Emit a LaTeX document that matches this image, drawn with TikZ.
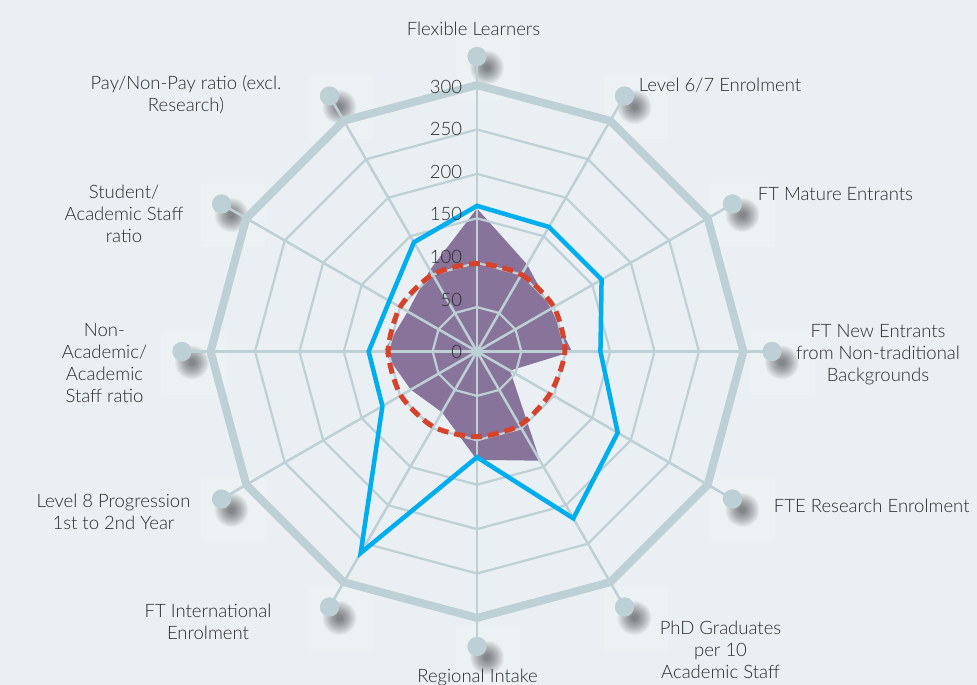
\documentclass[tikz,border=0pt]{standalone}
\usepackage{fontspec}
\setmainfont{Lato Light}
\usetikzlibrary{positioning}

\definecolor{bgcol}{HTML}{E9EFF2}
\definecolor{gridcol}{HTML}{BDD0D6}
\definecolor{purplefill}{HTML}{88739A}
\definecolor{bluecol}{HTML}{00AEEF}
\definecolor{redcol}{HTML}{D5432C}
\definecolor{txtcol}{HTML}{2B2B2B}

\newcommand{\unitpx}{0.888}

\tikzset{
  gridline/.style={draw=gridcol, line width=2.2},
  spokeline/.style={draw=gridcol, line width=2.5},
  outerring/.style={draw=gridcol, line width=8},
  dotnode/.style={circle, fill=gridcol, minimum size=19, inner sep=0},
  blueline/.style={draw=bluecol, line width=4.5, line join=miter},
  redline/.style={draw=redcol, line width=5, dash pattern=on 11pt off 6pt},
  lbl/.style={inner sep=0.75pt, font=\fontsize{18.5}{22}\selectfont, text=txtcol, align=center},
  ticklbl/.style={inner sep=0.75pt, font=\fontsize{18.5}{22}\selectfont, text=txtcol, anchor=east}
}

\begin{document}
\begin{tikzpicture}[x=1pt,y=1pt,yscale=-1]

\useasboundingbox (0,0) rectangle (977,685);
\fill[bgcol] (0,0) rectangle (977,685);

\begin{scope}[shift={(477,351.5)}]

% Pale squares and shadows of the dots
\foreach \j in {0,...,11} {
  \fill[white, opacity=0.18] ({30*\j-90}:295) ++(-21,-21) rectangle ++(64,64);
  \foreach \s in {17,16,...,3}
    \fill[black, opacity=0.034] ({30*\j-90}:295) ++(10,11) circle (\s);
}

% Data points
\coordinate (ctr) at (0,0);
\foreach \v [count=\i from 0] in {161,113,96,107,43,142,122,79,86,105,90,106}
  \coordinate (pu\i) at ({30*\i-90}:{\v*\unitpx});
\foreach \v [count=\i from 0] in {164,162,162,139,183,217,119,262,123,122,114,142}
  \coordinate (bl\i) at ({30*\i-90}:{\v*\unitpx});
\foreach \v [count=\i from 0] in {99,100,100,99,95,96,96,98,99,100,100,100}
  \coordinate (rd\i) at ({30*\i-90}:{\v*\unitpx});

% Purple area
\fill[purplefill] (pu0) \foreach \i in {1,...,11} { -- (pu\i) } -- cycle;

% Grid rings
\foreach \k in {1,...,5}
  \draw[gridline] (-90:{\k*50*\unitpx}) \foreach \j in {1,...,11} { -- ({30*\j-90}:{\k*50*\unitpx}) } -- cycle;

% Spokes and dots
\foreach \j in {0,...,11} {
  \node[dotnode] (dot\j) at ({30*\j-90}:295) {};
  \draw[spokeline] (ctr) -- (dot\j.center);
  \node[dotnode] at (dot\j) {};
}

% Outer ring
\draw[outerring] (-90:{300*\unitpx}) \foreach \j in {1,...,11} { -- ({30*\j-90}:{300*\unitpx}) } -- cycle;

% Red dashed line
\draw[redline] plot[smooth cycle, tension=0.45] coordinates {(rd0) (rd1) (rd2) (rd3) (rd4) (rd5) (rd6) (rd7) (rd8) (rd9) (rd10) (rd11)};

% Blue line
\draw[blueline] (bl0) \foreach \i in {1,...,11} { -- (bl\i) } -- cycle;

\end{scope}

% Scale labels
\foreach \t/\y in {0/352,50/300,100/257,150/214,200/172,250/129,300/87}
  \node[ticklbl] (tick\t) at (463,\y) {\t};

% Text Node
\node[lbl] (lblFlex) at (473.5,29) {Flexible Learners};
% Text Node
\node[lbl, anchor=west] (lblLevelSix) at (638,85) {Level 6/7 Enrolment};
% Text Node
\node[lbl, anchor=west] (lblMature) at (757,194) {FT Mature Entrants};
% Text Node
\node[lbl] (lblNewEntr) at (878,355) {FT New Entrants\\ from Non-traditional\\ Backgrounds};
% Text Node
\node[lbl, anchor=west] (lblResearch) at (773,506) {FTE Research Enrolment};
% Text Node
\node[lbl] (lblPhd) at (720.5,650) {PhD Graduates\\ per 10\\ Academic Staff};
% Text Node
\node[lbl] (lblRegional) at (477.5,677) {Regional Intake};
% Text Node
\node[lbl] (lblIntl) at (208,622) {FT International\\ Enrolment};
% Text Node
\node[lbl] (lblLevelEight) at (113.5,511.5) {Level 8 Progression\\ 1st to 2nd Year};
% Text Node
\node[lbl] (lblNonAcad) at (104.5,363) {Non-\\ Academic/\\ Academic\\ Staff ratio};
% Text Node
\node[lbl] (lblStudent) at (124,213.5) {Student/\\ Academic Staff\\ ratio};
% Text Node
\node[lbl] (lblPay) at (186,94.5) {Pay/Non-Pay ratio (excl.\\ Research)};

\end{tikzpicture}
\end{document}
